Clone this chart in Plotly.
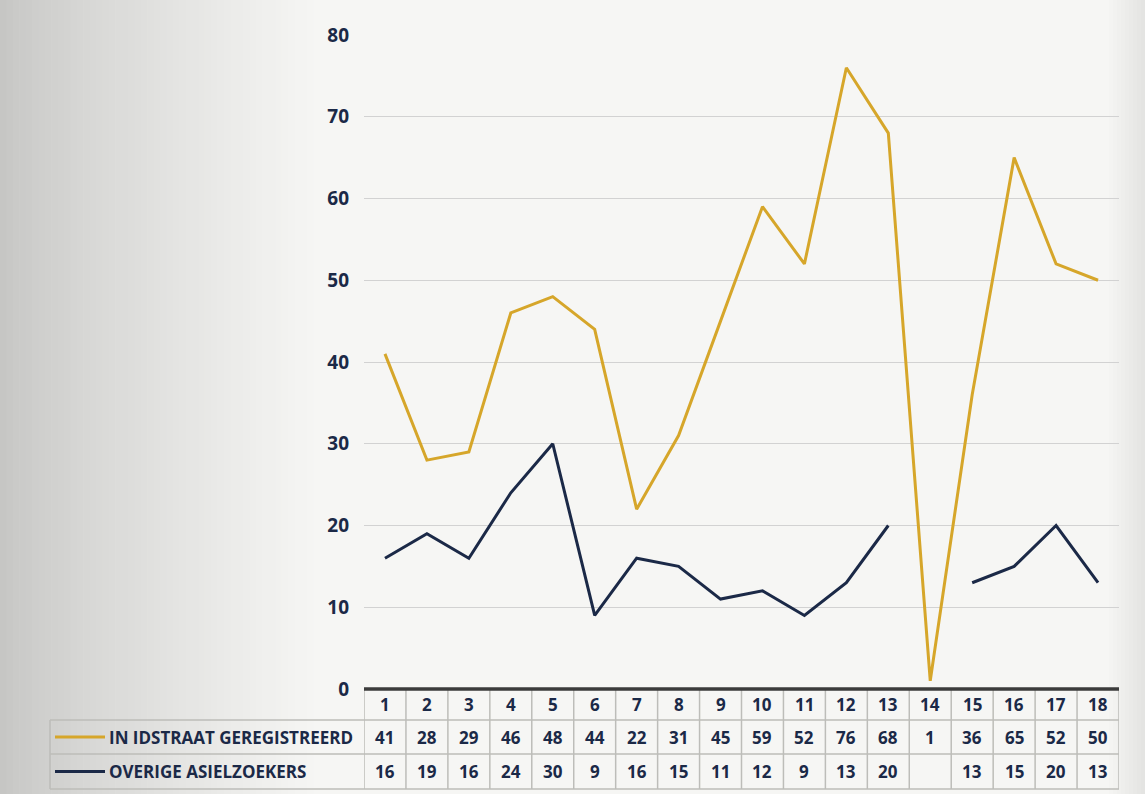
import plotly.graph_objects as go

categories = list(range(1, 19))
series1_name = "IN IDSTRAAT GEREGISTREERD"
series1 = [41, 28, 29, 46, 48, 44, 22, 31, 45, 59, 52, 76, 68, 1, 36, 65, 52, 50]
series2_name = "OVERIGE ASIELZOEKERS"
series2 = [16, 19, 16, 24, 30, 9, 16, 15, 11, 12, 9, 13, 20, None, 13, 15, 20, 13]
y_ticks = [0, 10, 20, 30, 40, 50, 60, 70, 80]

GOLD = "#d6a62a"
NAVY = "#1b2947"
GRID = "#d2d2d2"
TBL = "#bdbdb9"
FONT = "Open Sans"

W, H = 1145, 794
L, R, T, B = 364, 26, 35, 105
plot_h = H - T - B
def py(p):
    return (H - B - p) / plot_h
def px(p):
    return (p - L) / (W - L - R)

fig = go.Figure()
fig.add_trace(go.Scatter(x=categories, y=series1, mode="lines", name=series1_name,
                         line=dict(color=GOLD, width=3), showlegend=False))
fig.add_trace(go.Scatter(x=categories, y=series2, mode="lines", name=series2_name,
                         line=dict(color=NAVY, width=3), connectgaps=False, showlegend=False))

shapes = []
# soft photo-like vignette on the left
strips = 50
sw = 320 / strips
for i in range(strips):
    x0 = i * sw
    t = i / (strips - 1)
    g = int(round(198 + (246 - 198) * (t ** 0.8)))
    shapes.append(dict(type="rect", xref="paper", yref="paper", x0=px(x0), x1=px(x0 + sw + 0.6),
                       y0=py(H), y1=py(0), fillcolor=f"rgb({g},{g},{g-2})", line=dict(width=0), layer="below"))
# slight shading on the right edge
for i in range(10):
    x0 = W - 40 + i * 4
    g = int(round(246 - 18 * i / 9))
    shapes.append(dict(type="rect", xref="paper", yref="paper", x0=px(x0), x1=px(x0 + 4.6),
                       y0=py(H), y1=py(0), fillcolor=f"rgb({g},{g},{g-2})", line=dict(width=0), layer="below"))

# table geometry
top, r1, r2, bot = 689, 720, 754, 789
lab_left = 50
for yy in (r1, r2, bot):
    shapes.append(dict(type="line", xref="paper", yref="paper", x0=px(lab_left), x1=1,
                       y0=py(yy), y1=py(yy), line=dict(color=TBL, width=1.5)))
shapes.append(dict(type="line", xref="paper", yref="paper", x0=px(lab_left), x1=px(lab_left),
                   y0=py(r1), y1=py(bot), line=dict(color=TBL, width=1.5)))
for i in range(len(categories) + 1):
    shapes.append(dict(type="line", xref="x", yref="paper", x0=0.5 + i, x1=0.5 + i,
                       y0=py(top), y1=py(bot), line=dict(color=TBL, width=1.5)))
# top thick line
shapes.append(dict(type="line", xref="paper", yref="paper", x0=0, x1=1, y0=py(top), y1=py(top),
                   line=dict(color="#3b3b3b", width=3.5)))
# legend keys
shapes.append(dict(type="line", xref="paper", yref="paper", x0=px(55), x1=px(105),
                   y0=py((r1 + r2) / 2), y1=py((r1 + r2) / 2), line=dict(color=GOLD, width=3)))
shapes.append(dict(type="line", xref="paper", yref="paper", x0=px(55), x1=px(105),
                   y0=py((r2 + bot) / 2), y1=py((r2 + bot) / 2), line=dict(color=NAVY, width=3)))

ann = []
tf = dict(family=FONT, size=17, color=NAVY, weight="bold")
for c, v1, v2 in zip(categories, series1, series2):
    for yc, txt in (((top + r1) / 2, str(c)), ((r1 + r2) / 2, str(v1)),
                    ((r2 + bot) / 2, "" if v2 is None else str(v2))):
        ann.append(dict(x=c, y=py(yc), xref="x", yref="paper", text=txt,
                        xanchor="center", yanchor="middle", showarrow=False, font=tf))
lf = dict(family=FONT, size=17, color=NAVY, weight="bold")
ann.append(dict(x=px(107), y=py((r1 + r2) / 2), xref="paper", yref="paper", text=series1_name,
                xanchor="left", yanchor="middle", showarrow=False, font=lf))
ann.append(dict(x=px(107), y=py((r2 + bot) / 2), xref="paper", yref="paper", text=series2_name,
                xanchor="left", yanchor="middle", showarrow=False, font=lf))

fig.update_layout(
    width=W, height=H,
    margin=dict(l=L, r=R, t=T, b=B),
    paper_bgcolor="#f6f6f4",
    plot_bgcolor="rgba(0,0,0,0)",
    shapes=shapes,
    annotations=ann,
    xaxis=dict(range=[0.5, len(categories) + 0.5], showticklabels=False, showgrid=False,
               zeroline=False, showline=False, fixedrange=True),
    yaxis=dict(range=[0, 80], tickvals=y_ticks, showgrid=True, gridcolor=GRID, gridwidth=1,
               zeroline=False, showline=False, ticklabelstandoff=14,
               tickfont=dict(family=FONT, size=19, color=NAVY, weight="bold")),
)

fig.write_html("out.html", config={"displayModeBar": False},
               post_script="document.body.style.margin='0';")
